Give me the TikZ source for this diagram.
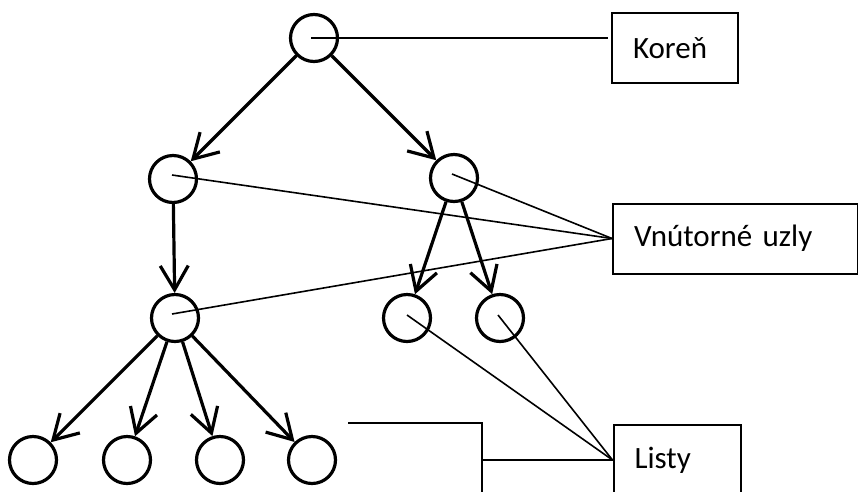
\documentclass[tikz,border=0pt]{standalone}
\usepackage{fontspec}
\setmainfont{Carlito}
\usetikzlibrary{arrows.meta}
\begin{document}
\begin{tikzpicture}[x=1pt,y=-1pt,
  vert/.style={circle,draw,line width=3.2pt,minimum size=47pt,inner sep=0pt},
  edge/.style={line width=3.2pt,-{Straight Barb[length=24pt,width=28pt,line width=3.2pt]}},
  thin/.style={line width=1.6pt},
  lbox/.style={draw,line width=2pt,minimum height=70pt,inner xsep=21pt,align=left,
    font=\fontsize{31}{36}\selectfont}
]
\useasboundingbox (0,0) rectangle (858,491);
\node[vert] (r) at (314,38) {};
\node[vert] (a) at (173,179) {};
\node[vert] (b) at (454,178) {};
\node[vert] (c) at (175,318) {};
\node[vert] (d) at (407,318) {};
\node[vert] (e) at (500,318) {};
\node[vert] (f1) at (33,460) {};
\node[vert] (f2) at (127,460) {};
\node[vert] (f3) at (220,460) {};
\node[vert] (f4) at (312,460) {};

\draw[edge] (r) -- (a);
\draw[edge] (r) -- (b);
\draw[edge] (a) -- (c);
\draw[edge] (b) -- (d);
\draw[edge] (b) -- (e);
\draw[edge] (c) -- (f1);
\draw[edge] (c) -- (f2);
\draw[edge] (c) -- (f3);
\draw[edge] (c) -- (f4);

\node[lbox,text width=84pt] (kor) at (675,48) {Koreň};
\node[lbox,text width=203pt] (vnu) at (735.5,238.5) {Vnútorné uzly};
\node[lbox,text width=85pt] (lis) at (677,460) {Listy};

\draw[thin] ([shift={(-3,0)}]r.center) -- ([shift={(-3,0)}]r.center -| kor.west);
\draw[thin] ([shift={(-1,-4)}]a.center) -- (vnu.west);
\draw[thin] ([shift={(-2,-4)}]b.center) -- (vnu.west);
\draw[thin] ([shift={(-3,-4)}]c.center) -- (vnu.west);
\draw[thin] ([shift={(0,-3)}]d.center) -- (lis.west);
\draw[thin] ([shift={(-2,-3)}]e.center) -- (lis.west);

\coordinate (bt) at (348,423);
\coordinate (bc) at (482,423);
\coordinate (bb) at (482,495);
\coordinate (bm) at (482,460);
\draw[thin] (bt) -- (bc) -- (bb);
\draw[thin] (bm) -- (lis.west);
\end{tikzpicture}
\end{document}
